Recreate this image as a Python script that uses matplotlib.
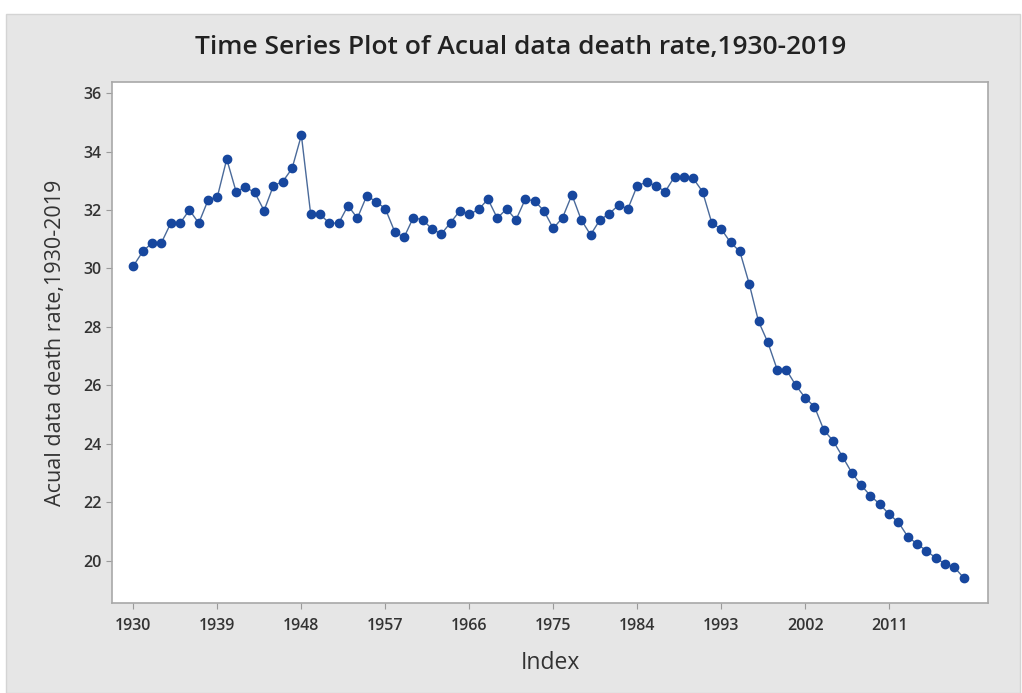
import numpy as np
import matplotlib.pyplot as plt
from matplotlib.patches import Rectangle

# Data (one value per year, 1930-2019)
years = np.arange(1930, 2020)
death_rate = [
    30.09, 30.58, 30.88, 30.88, 31.55, 31.55, 32.00, 31.55, 32.34, 32.46,
    33.74, 32.63, 32.78, 32.60, 31.98, 32.83, 32.97, 33.42, 34.56, 31.85,
    31.85, 31.55, 31.55, 32.15, 31.72, 32.48, 32.29, 32.04, 31.26, 31.06,
    31.74, 31.66, 31.35, 31.18, 31.57, 31.98, 31.85, 32.02, 32.37, 31.72,
    32.04, 31.66, 32.37, 32.31, 31.97, 31.37, 31.74, 32.52, 31.66, 31.15,
    31.66, 31.87, 32.17, 32.04, 32.83, 32.95, 32.83, 32.63, 33.14, 33.14,
    33.08, 32.63, 31.55, 31.35, 30.89, 30.58, 29.48, 28.19, 27.47, 26.54,
    26.52, 26.00, 25.57, 25.27, 24.47, 24.10, 23.56, 23.01, 22.58, 22.22,
    21.93, 21.59, 21.31, 20.82, 20.57, 20.34, 20.09, 19.89, 19.77, 19.41,
]
xtick_years = [1930, 1939, 1948, 1957, 1966, 1975, 1984, 1993, 2002, 2011]
ytick_values = [20, 22, 24, 26, 28, 30, 32, 34, 36]

plt.rcParams['font.family'] = ['Open Sans', 'DejaVu Sans']

fig = plt.figure(figsize=(10.22, 6.93), dpi=100, facecolor='white')
# grey Minitab-style background panel, behind the axes
bg = Rectangle((6 / 1022, 0), 1014 / 1022, 679 / 693,
               transform=fig.transFigure, facecolor='#e6e6e6',
               edgecolor='#d4d4d4', linewidth=1, zorder=-1)
fig.add_artist(bg)

ax = fig.add_axes([112 / 1022, 90 / 693, 876 / 1022, 521 / 693])
ax.set_facecolor('white')

ax.plot(years, death_rate, color='#4a6a9a', linewidth=1.0, zorder=2)
ax.plot(years, death_rate, linestyle='none', marker='o', markersize=6,
        color='#17479e', markeredgecolor='#17479e', zorder=3)

ax.set_xlim(1930 - 2.3, 2019 + 2.6)
ax.set_ylim(18.55, 36.38)
ax.set_xticks(xtick_years)
ax.set_yticks(ytick_values)
ax.tick_params(axis='both', direction='out', length=4, width=0.8,
               color='#9a9a9a', labelsize=11.5, labelcolor='#333333')
ax.tick_params(axis='x', pad=7)
for lab in ax.get_xticklabels() + ax.get_yticklabels():
    lab.set_fontweight('semibold')

for s in ax.spines.values():
    s.set_color('#a8a8a8')
    s.set_linewidth(1.2)

fig.text(0.509, 0.932, 'Time Series Plot of Acual data death rate,1930-2019',
         ha='center', va='center', fontsize=19, fontweight='semibold',
         color='#222222')
ax.set_xlabel('Index', fontsize=16.5, color='#333333', labelpad=12)
ax.set_ylabel('Acual data death rate,1930-2019', fontsize=15.5,
              color='#333333', labelpad=12)

fig.savefig('out.png', dpi=100, facecolor=fig.get_facecolor())
